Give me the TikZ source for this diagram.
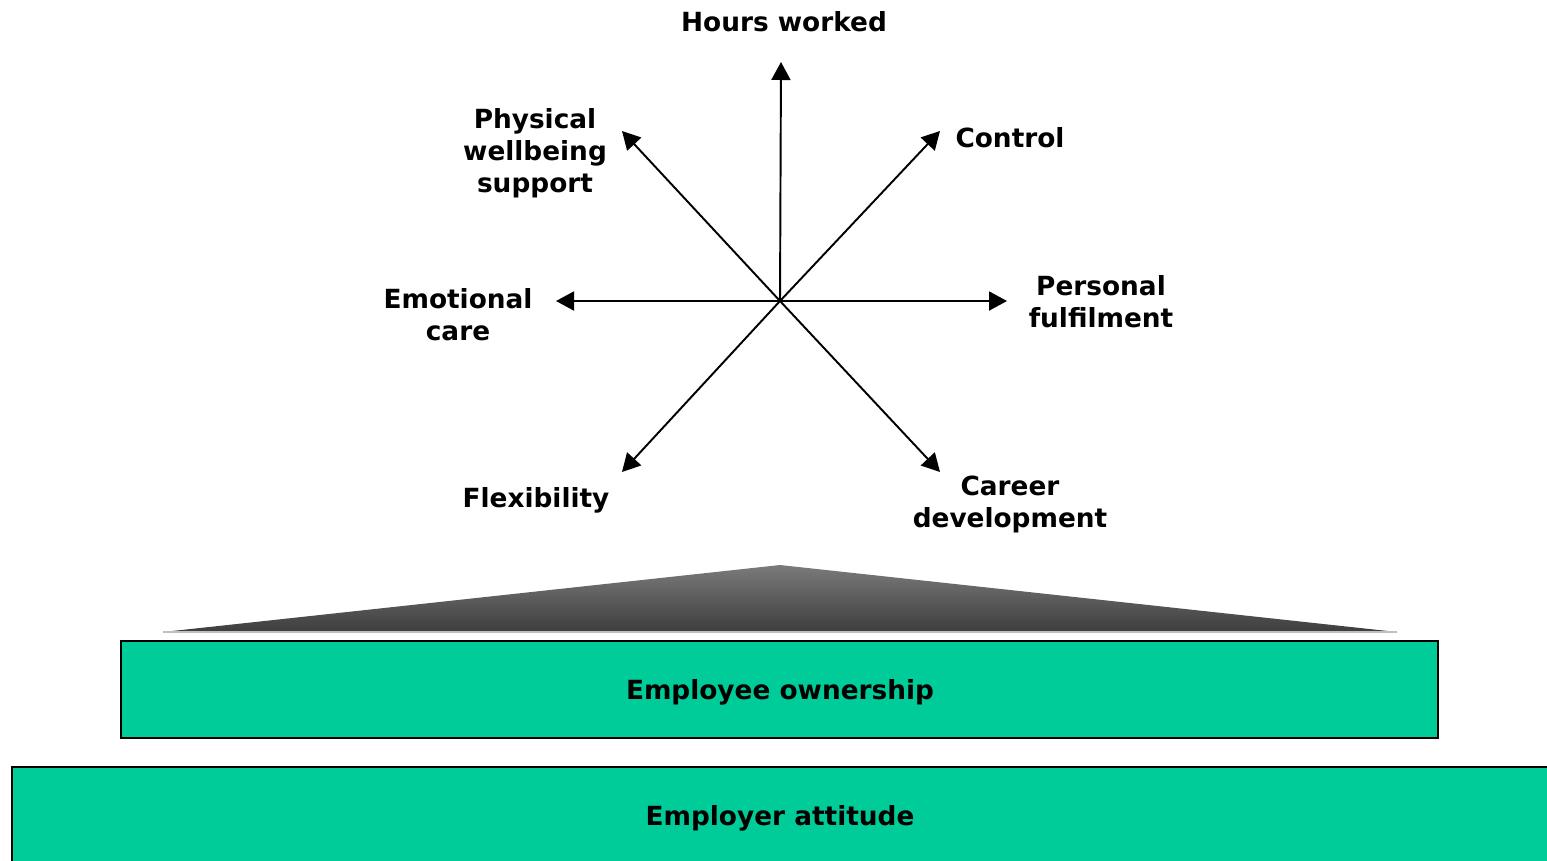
\documentclass[tikz,border=0pt]{standalone}
\usepackage{fontspec}
\setmainfont{DejaVu Sans}
\usepackage{tikz}
\usetikzlibrary{arrows.meta,positioning}
\definecolor{boxgreen}{HTML}{00CC99}
\tikzset{
    %Define standard arrow tip
    >={Triangle[length=0.36cm,width=0.38cm]},
    %Define style for labels
    factor/.style={
           font=\bfseries\fontsize{15}{18.2}\selectfont,
           align=center,
           inner sep=0pt},
    %Define style for boxes
    layer/.style={
           rectangle,
           draw=black, line width=1.2pt,
           fill=boxgreen,
           font=\bfseries\fontsize{15}{18.2}\selectfont,
           text centered},
    % Define arrow style
    pil/.style={
           ->,
           line width=1.1pt}
}
\begin{document}
\begin{tikzpicture}[x=0.02cm,y=-0.02cm]
 \useasboundingbox (0,0) rectangle (1547,860);
 \clip (0,0) rectangle (1547,860);

 %star
 \coordinate (c) at (780,301);
 \coordinate (n) at (781,62);
 \coordinate (ne) at (940,131);
 \coordinate (e) at (1007,301);
 \coordinate (se) at (940,472);
 \coordinate (sw) at (622,472);
 \coordinate (w) at (556,301);
 \coordinate (nw) at (622,131);
 \draw[pil] (c) -- (n);
 \draw[pil] (c) -- (ne);
 \draw[pil] (c) -- (e);
 \draw[pil] (c) -- (se);
 \draw[pil] (c) -- (sw);
 \draw[pil] (c) -- (w);
 \draw[pil] (c) -- (nw);

 %labels
 \node[factor](hours) at (784,22){Hours worked};
 \node[factor](control) at (1010,138){Control};
 \node[factor](fulfil) at (1101,302){Personal\\fulfilment};
 \node[factor](career) at (1010,504){Career\\development};
 \node[factor](flex) at (536,500){Flexibility};
 \node[factor](emotion) at (458,315){Emotional\\care};
 \node[factor](physical) at (535,153){Physical\\wellbeing\\support};

 %base
 \shade[top color=black!52, bottom color=black!76] (163,632) -- (780,565) -- (1397,632) -- cycle;
 \draw[black!25, line width=0.6pt] (163,632) -- (1397,632);
 \node[layer, minimum width=26.34cm, minimum height=1.94cm](owner) at (779.5,689.5){};
 \node[factor](ownership) at (780,692){Employee ownership};
 \node[layer, minimum width=31.5cm, minimum height=2.2cm, anchor=north west](employer) at (11,766){};
 \node[factor](attitude) at (780,818){Employer attitude};
\end{tikzpicture}
\end{document}
